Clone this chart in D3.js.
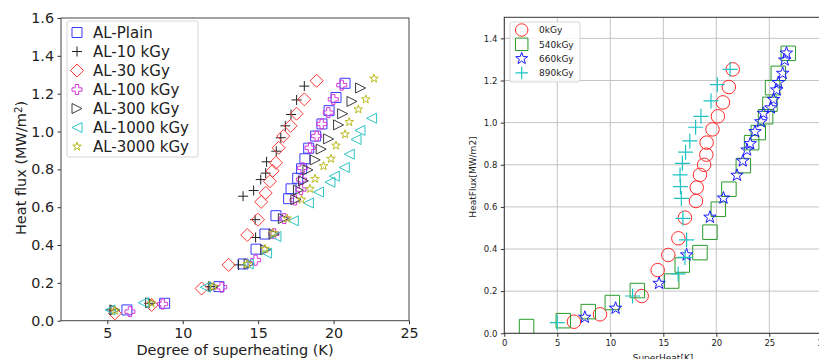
<!DOCTYPE html>
<html>
<head>
<meta charset="utf-8">
<script src="https://cdn.jsdelivr.net/npm/d3@7"></script>
<style>
  body { margin: 0; background: #fff; }
  svg { display: block; font-family: "DejaVu Sans", sans-serif; }
</style>
</head>
<body>
<svg id="chart" width="819" height="359"></svg>
<script>
// ---- left panel data: [superheat K, heat flux MW/m2]
const alPlain = [[6.3,0.057],[8.8,0.092],[12.4,0.18],[14.0,0.30],[14.86,0.378],[15.45,0.458],[16.18,0.555],[17.02,0.645],[17.18,0.697],[17.62,0.753],[17.88,0.803],[18.1,0.856],[18.35,0.912],[18.81,0.976],[19.23,1.04],[19.7,1.11],[20.16,1.18],[20.76,1.255]];
const al10 = [[5.24,0.057],[7.78,0.092],[11.8,0.18],[13.7,0.295],[14.83,0.44],[14.8,0.534],[14.0,0.658],[14.7,0.688],[15.17,0.746],[15.5,0.78],[15.56,0.84],[16.2,0.896],[16.5,0.967],[16.8,1.03],[17.18,1.09],[17.55,1.167],[18.06,1.24]];
const al30 = [[5.5,0.039],[7.94,0.083],[11.25,0.17],[13.04,0.295],[14.28,0.453],[14.99,0.534],[15.2,0.628],[15.5,0.675],[15.78,0.737],[15.96,0.792],[16.18,0.835],[16.36,0.914],[16.67,0.976],[17.15,1.03],[17.55,1.094],[18.06,1.17],[18.88,1.268]];
const al100 = [[6.5,0.048],[8.67,0.088],[12.58,0.177],[14.83,0.32],[16.05,0.46],[16.73,0.54],[17.44,0.638],[17.84,0.693],[17.88,0.746],[17.95,0.808],[18.44,0.914],[18.88,0.976],[19.21,1.04],[19.65,1.10],[19.98,1.17],[20.54,1.245]];
const al300 = [[5.5,0.057],[7.87,0.095],[12.03,0.18],[14.4,0.30],[15.5,0.375],[16.05,0.458],[16.67,0.54],[17.5,0.64],[17.67,0.69],[18.0,0.739],[18.3,0.797],[18.78,0.85],[19.18,0.907],[19.67,0.961],[20.33,1.035],[20.6,1.094],[21.22,1.159],[21.79,1.23]];
const al1000 = [[5.18,0.057],[7.39,0.095],[11.5,0.177],[14.35,0.30],[15.56,0.357],[16.18,0.445],[17.33,0.528],[18.33,0.622],[19.0,0.68],[19.76,0.732],[20.05,0.764],[20.71,0.81],[21.04,0.88],[21.49,0.958],[21.75,1.006],[22.52,1.07]];
const al3000 = [[5.5,0.053],[7.94,0.092],[12.03,0.18],[14.28,0.30],[15.45,0.38],[16.0,0.463],[16.93,0.54],[17.88,0.64],[18.44,0.697],[18.77,0.75],[19.33,0.817],[19.83,0.856],[20.16,0.926],[20.76,0.985],[21.04,1.05],[21.64,1.117],[22.13,1.17],[22.68,1.28]];

// ---- right panel data
const kgy0 = [[6.57,0.055],[9.03,0.09],[12.96,0.177],[14.47,0.30],[15.47,0.372],[16.42,0.451],[17.04,0.549],[18.08,0.628],[18.15,0.692],[18.46,0.752],[18.85,0.80],[19.06,0.848],[19.09,0.905],[19.64,0.968],[20.15,1.03],[20.63,1.096],[21.18,1.169],[21.55,1.253]];
const kgy540 = [[2.1,0.032],[5.57,0.06],[7.92,0.103],[10.19,0.146],[12.55,0.203],[15.79,0.248],[16.79,0.324],[18.46,0.383],[19.4,0.48],[20.19,0.589],[21.19,0.684],[22.55,0.796],[23.33,0.905],[23.96,0.953],[24.65,1.028],[25.06,1.087],[25.31,1.166],[25.85,1.234],[26.79,1.329]];
const kgy660 = [[7.6,0.076],[10.5,0.119],[14.6,0.237],[17.2,0.372],[19.4,0.551],[20.68,0.642],[21.95,0.75],[22.5,0.818],[22.9,0.87],[23.2,0.90],[23.65,0.957],[24.2,1.004],[24.45,1.044],[25.15,1.07],[25.4,1.11],[25.7,1.155],[25.85,1.19],[26.26,1.234],[26.45,1.297],[26.62,1.33]];
const kgy890 = [[5.0,0.051],[12.1,0.177],[16.4,0.282],[17.05,0.36],[17.2,0.443],[16.85,0.546],[16.7,0.64],[16.62,0.696],[16.58,0.752],[16.8,0.807],[17.1,0.86],[17.5,0.913],[18.05,0.978],[18.55,1.03],[19.5,1.103],[20.1,1.18],[21.3,1.253]];

const leftXTicks = [5, 10, 15, 20, 25];
const leftYTicks = [0, 0.2, 0.4, 0.6, 0.8, 1.0, 1.2, 1.4, 1.6];
const rightXTicks = [0, 5, 10, 15, 20, 25, 30];
const rightYTicks = [0, 0.2, 0.4, 0.6, 0.8, 1.0, 1.2, 1.4];

const svg = d3.select('#chart');

// marker path builders, centred at 0,0
function starPath(size) {
  const R = size / 2, r = R * 0.4, pts = [];
  for (let i = 0; i < 10; i++) {
    const a = -Math.PI / 2 + i * Math.PI / 5;
    const rad = i % 2 ? r : R;
    pts.push([rad * Math.cos(a), rad * Math.sin(a)]);
  }
  return 'M' + pts.map(p => p.join(',')).join('L') + 'Z';
}
function fatPlusPath(size) {
  const h = size / 2, w = size / 6;
  const p = [[-w,-h],[w,-h],[w,-w],[h,-w],[h,w],[w,w],[w,h],[-w,h],[-w,w],[-h,w],[-h,-w],[-w,-w]];
  return 'M' + p.map(q => q.join(',')).join('L') + 'Z';
}
const markerPaths = {
  square: s => `M${-s/2},${-s/2}h${s}v${s}h${-s}Z`,
  diamond: s => `M0,${-s/2}L${s/2},0L0,${s/2}L${-s/2},0Z`,
  plus: s => `M${-s/2},0H${s/2}M0,${-s/2}V${s/2}`,
  fatplus: fatPlusPath,
  triRight: s => `M${s/2},0L${-s/2},${-s/2}L${-s/2},${s/2}Z`,
  triLeft: s => `M${-s/2},0L${s/2},${-s/2}L${s/2},${s/2}Z`,
  star: starPath,
  circle: s => d3.arc()({ innerRadius: 0, outerRadius: s / 2, startAngle: 0, endAngle: 2 * Math.PI })
};

function drawPanel(cfg) {
  const g = svg.append('g');
  const x = d3.scaleLinear().domain(cfg.xDomain).range(cfg.xRange);
  const y = d3.scaleLinear().domain(cfg.yDomain).range(cfg.yRange);
  const [x0, x1] = cfg.xRange, [y0, y1] = cfg.yRange;

  const clipId = 'clip-' + cfg.id;
  g.append('clipPath').attr('id', clipId)
    .append('rect').attr('x', x0).attr('y', y1).attr('width', x1 - x0).attr('height', y0 - y1);

  if (cfg.grid) {
    g.append('g').selectAll('line.gx').data(cfg.xTicks).join('line')
      .attr('x1', d => x(d)).attr('x2', d => x(d)).attr('y1', y0).attr('y2', y1)
      .attr('stroke', '#c4c4c4').attr('stroke-width', 1);
    g.append('g').selectAll('line.gy').data(cfg.yTicks).join('line')
      .attr('x1', x0).attr('x2', x1).attr('y1', d => y(d)).attr('y2', d => y(d))
      .attr('stroke', '#c4c4c4').attr('stroke-width', 1);
  }

  const ax = g.append('g').attr('transform', `translate(0,${y0})`)
    .call(d3.axisBottom(x).tickValues(cfg.xTicks).tickFormat(d3.format('d')).tickSize(3.5).tickPadding(3.5));
  const ay = g.append('g').attr('transform', `translate(${x0},0)`)
    .call(d3.axisLeft(y).tickValues(cfg.yTicks).tickFormat(d3.format('.1f')).tickSize(3.5).tickPadding(3.5));
  [ax, ay].forEach(a => {
    a.select('.domain').remove();
    a.selectAll('text').attr('font-size', cfg.tickFont).attr('fill', '#222')
      .attr('font-family', '"DejaVu Sans", sans-serif');
    a.selectAll('line').attr('stroke', '#333');
  });

  const marks = g.append('g').attr('clip-path', `url(#${clipId})`);
  cfg.series.forEach(s => {
    marks.append('g').selectAll('path').data(s.data).join('path')
      .attr('transform', d => `translate(${x(d[0])},${y(d[1])})`)
      .attr('d', markerPaths[s.marker](s.size))
      .attr('fill', 'none').attr('stroke', s.color).attr('stroke-width', s.sw || 1);
  });

  g.append('rect').attr('x', x0).attr('y', y1).attr('width', x1 - x0).attr('height', y0 - y1)
    .attr('fill', 'none').attr('stroke', cfg.frameColor).attr('stroke-width', 1);

  // legend
  const L = cfg.legend;
  const lg = g.append('g');
  lg.append('rect').attr('x', L.x).attr('y', L.y).attr('width', L.w).attr('height', L.h)
    .attr('rx', 2).attr('fill', 'rgba(255,255,255,0.85)').attr('stroke', '#d6d6d6');
  cfg.series.forEach((s, i) => {
    const cy = L.rowY + i * L.step;
    lg.append('path').attr('transform', `translate(${L.markX},${cy})`)
      .attr('d', markerPaths[s.marker](L.markSize ? L.markSize : s.size))
      .attr('fill', 'none').attr('stroke', s.color).attr('stroke-width', s.sw || 1);
    lg.append('text').attr('x', L.textX).attr('y', cy).attr('dy', '0.36em')
      .attr('font-size', L.font).attr('fill', '#222').text(s.name);
  });

  // axis titles
  g.append('text').attr('x', cfg.xLabel.x).attr('y', cfg.xLabel.y).attr('text-anchor', 'middle')
    .attr('font-size', cfg.labelFont).attr('fill', '#222').text(cfg.xLabel.text);
  const yl = g.append('text')
    .attr('transform', `translate(${cfg.yLabel.x},${cfg.yLabel.y}) rotate(-90)`)
    .attr('text-anchor', 'middle').attr('dy', '0.36em')
    .attr('font-size', cfg.labelFont).attr('fill', '#222');
  if (cfg.yLabel.sup) {
    yl.append('tspan').text(cfg.yLabel.text);
    yl.append('tspan').attr('font-size', cfg.labelFont * 0.7).attr('dy', '-0.45em').text(cfg.yLabel.sup);
    yl.append('tspan').attr('dy', '0.3em').text(')');
  } else {
    yl.text(cfg.yLabel.text);
  }
}

drawPanel({
  id: 'left',
  xDomain: [1.93, 25], xRange: [61, 409],
  yDomain: [0, 1.6], yRange: [320.7, 18],
  xTicks: leftXTicks, yTicks: leftYTicks,
  tickFont: 14.3, labelFont: 14.5, frameColor: '#444', grid: false,
  series: [
    { name: 'AL-Plain', data: alPlain, marker: 'square', size: 10, color: '#3a3aff' },
    { name: 'AL-10 kGy', data: al10, marker: 'plus', size: 10, color: '#222' },
    { name: 'AL-30 kGy', data: al30, marker: 'diamond', size: 13, color: '#ff3838' },
    { name: 'AL-100 kGy', data: al100, marker: 'fatplus', size: 10, color: '#d63ad6' },
    { name: 'AL-300 kGy', data: al300, marker: 'triRight', size: 10, color: '#3c3c3c' },
    { name: 'AL-1000 kGy', data: al1000, marker: 'triLeft', size: 10, color: '#2ec4c4' },
    { name: 'AL-3000 kGy', data: al3000, marker: 'star', size: 9, color: '#bcbc22' }
  ],
  legend: { x: 67, y: 21, w: 131, h: 136, rowY: 32.5, step: 19, markX: 77, textX: 93, font: 15 },
  xLabel: { x: 235, y: 355, text: 'Degree of superheating (K)' },
  yLabel: { x: 21, y: 168, text: 'Heat flux (MW/m', sup: '2' }
});

drawPanel({
  id: 'right',
  xDomain: [0, 31.5], xRange: [504.3, 838.2],
  yDomain: [0, 1.5], yRange: [333.3, 17.3],
  xTicks: rightXTicks, yTicks: rightYTicks,
  tickFont: 8.5, labelFont: 9, frameColor: '#333', grid: true,
  series: [
    { name: '0kGy', data: kgy0, marker: 'circle', size: 13.5, color: '#ff2a2a' },
    { name: '540kGy', data: kgy540, marker: 'square', size: 14.5, color: '#2a9a2a' },
    { name: '660kGy', data: kgy660, marker: 'star', size: 13, color: '#1a1aff' },
    { name: '890kGy', data: kgy890, marker: 'plus', size: 15, color: '#1ec4c4', sw: 1.2 }
  ],
  legend: { x: 510, y: 22, w: 70, h: 60, rowY: 30, step: 14.3, markX: 521.7, textX: 539, font: 9, markSize: 12.5 },
  xLabel: { x: 663, y: 361, text: 'SuperHeat[K]' },
  yLabel: { x: 473, y: 177, text: 'HeatFlux[MW/m2]' }
});
</script>
</body>
</html>
